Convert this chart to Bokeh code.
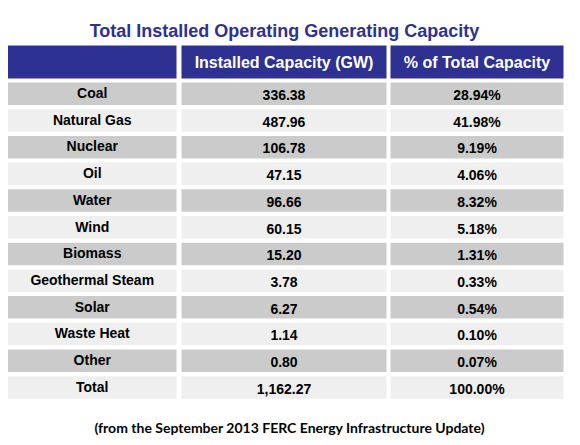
from bokeh.plotting import figure
from bokeh.models import Range1d
from bokeh.core.properties import value
from bokeh.embed import file_html
from bokeh.resources import INLINE

title = "Total Installed Operating Generating Capacity"
headers = ["", "Installed Capacity (GW)", "% of Total Capacity"]
sources = ["Coal", "Natural Gas", "Nuclear", "Oil", "Water", "Wind", "Biomass",
           "Geothermal Steam", "Solar", "Waste Heat", "Other", "Total"]
capacity = ["336.38", "487.96", "106.78", "47.15", "96.66", "60.15", "15.20",
            "3.78", "6.27", "1.14", "0.80", "1,162.27"]
percent = ["28.94%", "41.98%", "9.19%", "4.06%", "8.32%", "5.18%", "1.31%",
           "0.33%", "0.54%", "0.10%", "0.07%", "100.00%"]
footnote = "(from the September 2013  FERC Energy Infrastructure Update)"

W, H = 580, 445
p = figure(width=W, height=H, output_backend="svg", toolbar_location=None,
           x_range=Range1d(0, W), y_range=Range1d(H, 0), min_border=0)
p.axis.visible = False
p.grid.visible = False
p.outline_line_color = None
p.background_fill_color = "white"
p.border_fill_color = "white"

col_l = [7.5, 181, 390]
col_r = [176, 386, 563]
hdr_top, hdr_bot = 45, 78
row0, pitch, rh = 82, 26.7, 22.5

# header
p.quad(left=col_l, right=col_r, top=[hdr_top]*3, bottom=[hdr_bot]*3,
       fill_color="#2E3192", line_color=None)
p.text(x=[(l + r) / 2 for l, r in zip(col_l, col_r)], y=[61.5]*3, text=headers,
       text_color="white", text_font=value("Liberation Sans"), text_font_style="bold",
       text_font_size="16px", text_align="center", text_baseline="middle")

# rows
n = len(sources)
tops = [row0 + i * pitch for i in range(n)]
fills = ["#CBCBCB" if i % 2 == 0 else "#EFEFEF" for i in range(n)]
for c in range(3):
    p.quad(left=[col_l[c]]*n, right=[col_r[c]]*n, top=tops,
           bottom=[t + rh for t in tops], fill_color=fills, line_color=None)

cx = [(l + r) / 2 for l, r in zip(col_l, col_r)]
for c, col in enumerate([sources, capacity, percent]):
    dy = 10.5 if c == 0 else 12.5
    p.text(x=[cx[c]]*n, y=[t + dy for t in tops], text=col,
           text_color="black", text_font=value("Liberation Sans"),
           text_font_style="bold", text_font_size="14px",
           text_align="center", text_baseline="middle")

p.text(x=[284], y=[30], text=[title], text_color="#2E3192",
       text_font=value("Liberation Sans"), text_font_style="bold",
       text_font_size="18px", text_align="center", text_baseline="middle")
p.text(x=[291], y=[427], text=[footnote], text_color="black",
       text_font=value("Lato"), text_font_style="bold",
       text_font_size="14px", text_align="center", text_baseline="middle")

open("out.html", "w").write(file_html(p, INLINE))
